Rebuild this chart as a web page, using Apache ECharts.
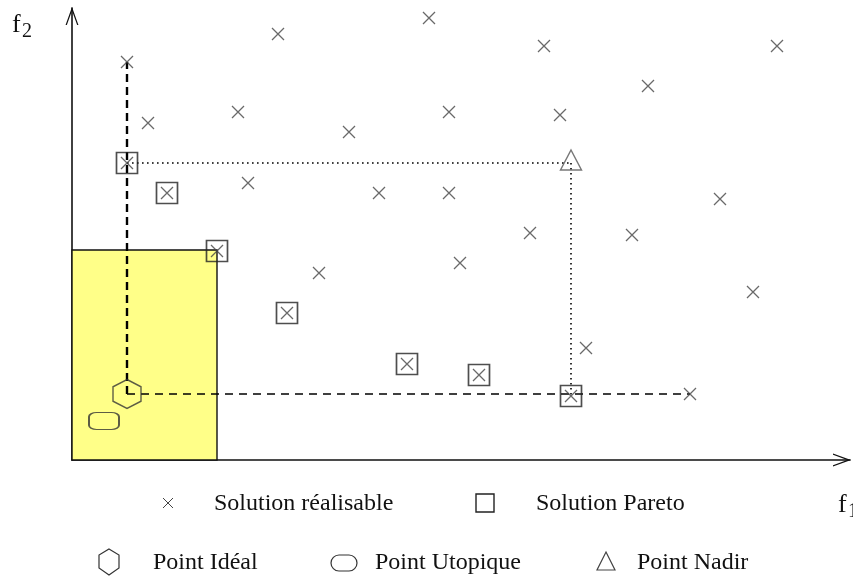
<!DOCTYPE html>
<html>
<head>
<meta charset="utf-8">
<script src="https://cdn.jsdelivr.net/npm/echarts@6/dist/echarts.min.js"></script>
<style>
  html, body { margin: 0; padding: 0; background: #fff; }
  #chart { width: 853px; height: 578px; }
</style>
</head>
<body>
<div id="chart"></div>
<script>
// espace des objectifs (f1, f2), unites arbitraires
var feasible = [
  [55, 398], [76, 337], [166, 348], [206, 426], [357, 442], [472, 414],
  [705, 414], [576, 374], [377, 348], [488, 345], [277, 328], [176, 277],
  [307, 267], [377, 267], [648, 261], [458, 227], [560, 225], [247, 187],
  [388, 197], [681, 168], [514, 112], [618, 66]
];
var pareto = [[55, 297], [95, 267], [145, 209], [215, 147], [335, 96], [407, 85], [499, 64]];
var ideal = [[55, 66]];
var utopia = [[32, 39]];
var nadir = [[499, 297]];
// zone jaune : du coin (0,0) jusqu'a ce point
var boxCorner = [145, 210];
// lignes de construction
var dashV = [[55, 66], [55, 398]];
var dashH = [[55, 66], [618, 66]];
var dotH = [[55, 297], [499, 297]];
var dotV = [[499, 297], [499, 64]];

var serif = '"Liberation Serif", "DejaVu Serif", serif';
var crossPath = 'path://M0,0L10,10M10,0L0,10';
var hexPath = 'path://M10,0L18.66,5L18.66,15L10,20L1.34,15L1.34,5Z';
var arrowPath = 'path://M0,14L5,0L10,14L9,14L5,3L1,14Z';
var hollow = function (c, w) {
  return { color: 'rgba(0,0,0,0)', borderColor: c, borderWidth: w };
};

var chart = echarts.init(document.getElementById('chart'));

var axisCommon = {
  type: 'value',
  min: 0,
  splitLine: { show: false },
  axisTick: { show: false },
  axisLabel: { show: false },
  axisLine: {
    show: true,
    onZero: false,
    symbol: ['none', arrowPath],
    symbolSize: [13, 18],
    symbolOffset: [0, -8],
    lineStyle: { color: '#111', width: 1.6 }
  }
};

function line(name, data, type, width) {
  return {
    name: name,
    type: 'line',
    data: data,
    symbol: 'none',
    silent: true,
    z: 3,
    lineStyle: { color: '#000', width: width, type: type }
  };
}

function txt(s, x, y, size) {
  return { type: 'text', left: x, top: y, silent: true, style: { text: s, font: size + 'px ' + serif, fill: '#111' } };
}

var option = {
  animation: false,
  backgroundColor: '#fff',
  grid: { left: 72, top: 8, right: 3, bottom: 118 },
  xAxis: Object.assign({}, axisCommon, { max: 778 }),
  yAxis: Object.assign({}, axisCommon, { max: 452 }),
  series: [
    {
      name: 'zone',
      type: 'line',
      data: [],
      silent: true,
      markArea: {
        silent: true,
        itemStyle: { color: '#ffff88', borderColor: '#111', borderWidth: 1.4 },
        data: [[{ coord: [0, 0] }, { coord: boxCorner }]]
      },
      z: 1
    },
    line('dashV', dashV, [8, 5], 2.4),
    line('dashH', dashH, [8, 6], 1.3),
    line('dotH', dotH, [1.6, 3.4], 1.6),
    line('dotV', dotV, [1.6, 3.4], 1.6),
    {
      name: 'Solution réalisable',
      type: 'scatter',
      data: feasible.concat(pareto),
      symbol: crossPath,
      symbolSize: 12,
      itemStyle: hollow('#444', 1.3),
      z: 5
    },
    {
      name: 'Solution Pareto',
      type: 'scatter',
      data: pareto,
      symbol: 'rect',
      symbolSize: 21,
      itemStyle: hollow('#222', 1.7),
      z: 6
    },
    {
      name: 'Point Idéal',
      type: 'scatter',
      data: ideal,
      symbol: hexPath,
      symbolSize: [28, 29],
      itemStyle: hollow('#333', 1.4),
      z: 6
    },
    {
      name: 'Point Utopique',
      type: 'scatter',
      data: utopia,
      symbol: 'roundRect',
      symbolSize: [30, 17],
      itemStyle: hollow('#333', 1.5),
      z: 6
    },
    {
      name: 'Point Nadir',
      type: 'scatter',
      data: nadir,
      symbol: 'triangle',
      symbolSize: [21, 20],
      symbolOffset: [0, -3],
      itemStyle: hollow('#555', 1.4),
      z: 6
    }
  ],
  graphic: [
    // noms des axes
    txt('f', 12, 12, 26),
    txt('2', 22, 22, 20),
    txt('f', 838, 492, 26),
    txt('1', 848, 502, 20),
    // legende ligne 1
    { type: 'line', shape: { x1: 163, y1: 498, x2: 173, y2: 508 }, style: { stroke: '#444', lineWidth: 1 } },
    { type: 'line', shape: { x1: 173, y1: 498, x2: 163, y2: 508 }, style: { stroke: '#444', lineWidth: 1 } },
    txt('Solution réalisable', 214, 492, 24),
    { type: 'rect', shape: { x: 476, y: 494, width: 18, height: 18 }, style: { stroke: '#222', fill: null, lineWidth: 1.4 } },
    txt('Solution Pareto', 536, 492, 24),
    // legende ligne 2
    { type: 'polygon', shape: { points: [[109, 549], [119, 555], [119, 568], [109, 575], [99, 568], [99, 555]] }, style: { stroke: '#333', fill: null, lineWidth: 1.2 } },
    txt('Point Idéal', 153, 551, 24),
    { type: 'rect', shape: { x: 331, y: 555, width: 26, height: 16, r: 8 }, style: { stroke: '#333', fill: null, lineWidth: 1.2 } },
    txt('Point Utopique', 375, 551, 24),
    { type: 'polygon', shape: { points: [[606, 552], [615, 570], [597, 570]] }, style: { stroke: '#444', fill: null, lineWidth: 1.2 } },
    txt('Point Nadir', 637, 551, 24)
  ]
};

chart.setOption(option);
</script>
</body>
</html>
